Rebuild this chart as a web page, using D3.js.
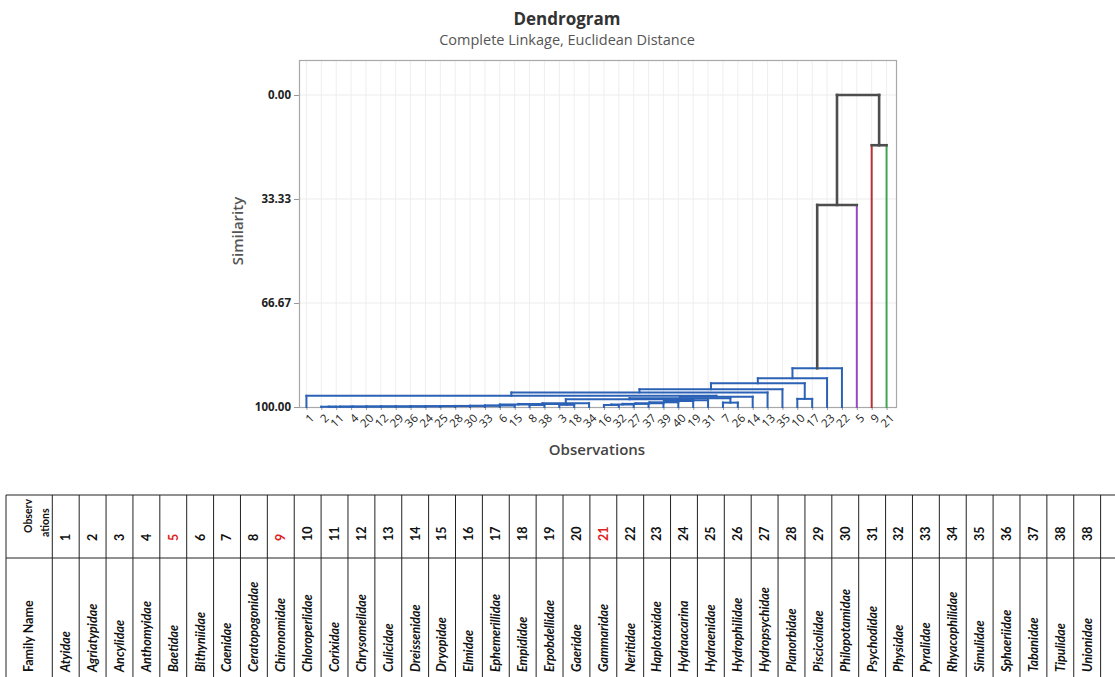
<!DOCTYPE html>
<html>
<head>
<meta charset="utf-8">
<script src="https://cdn.jsdelivr.net/npm/d3@7"></script>
<style>
  html, body { margin: 0; padding: 0; background: #ffffff; }
  svg { display: block; }
</style>
</head>
<body>
<svg id="chart" width="1115" height="677"></svg>
<script>
// Leaf order along the x axis (observation numbers)
const leafOrder = [1, 2, 11, 4, 20, 12, 29, 36, 24, 25, 28, 30, 33, 6, 15, 8, 38, 3, 18, 34,
                   16, 32, 27, 37, 39, 40, 19, 31, 7, 26, 14, 13, 35, 10, 17, 23, 22, 5, 9, 21];

// Amalgamation steps: [cluster joined, cluster joined, similarity level]
// The new cluster keeps the smaller of the two cluster numbers.
const merges = [
  [2, 11, 99.92], [2, 4, 99.90], [2, 20, 99.88], [2, 12, 99.86], [2, 29, 99.84],
  [2, 36, 99.82], [2, 24, 99.80], [2, 25, 99.77], [2, 28, 99.74], [2, 30, 99.70],
  [2, 33, 99.66], [2, 6, 99.60], [2, 15, 99.50], [8, 38, 99.35], [2, 8, 99.20],
  [3, 18, 99.30], [2, 3, 99.00], [2, 34, 98.80],
  [16, 32, 99.35], [16, 27, 99.20], [16, 37, 99.00], [16, 39, 98.80], [16, 40, 98.50],
  [16, 19, 98.10], [16, 31, 97.80], [2, 16, 97.55],
  [7, 26, 98.60], [2, 7, 97.20], [2, 14, 96.70], [1, 2, 96.40], [1, 13, 95.35],
  [1, 35, 94.30], [10, 17, 97.40], [1, 10, 92.40], [1, 23, 90.80], [1, 22, 87.60],
  [1, 5, 35.25], [9, 21, 16.10], [1, 9, 0.00]
];

// Final partition: singleton clusters with their own colours; all others share the first colour
const singletonClusters = [5, 9, 21];
const clusterColors = ["#2b62b6", "#9a47c4", "#b53234", "#3ea653"];
const joinColor = "#4d4d4d";

// Similarity axis ticks
const yTicks = [0, 33.33, 66.67, 100];
const yTickLabels = ["0.00", "33.33", "66.67", "100.00"];

// Key table: observation numbers and family names
const tableNumbers = ["1","2","3","4","5","6","7","8","9","10","11","12","13","14","15","16","17","18","19","20",
                      "21","22","23","24","25","26","27","28","29","30","31","32","33","34","35","36","37","38","38"];
const familyNames = ["Atyidae","Agriatypidae","Ancylidae","Anthomyidae","Baetidae","Bithyniidae","Caenidae",
  "Ceratopogonidae","Chironomidae","Chloroperlidae","Corixidae","Chrysomelidae","Culicidae","Dreissenidae",
  "Dryopidae","Elmidae","Ephemerillidae","Empididae","Erpobdellidae","Gaeridae","Gammaridae","Neritidae",
  "Haplotaxidae","Hydraacarina","Hydraenidae","Hydrophilidae","Hydropsychidae","Planorbidae","Piscicolidae",
  "Philopotamidae","Psychodidae","Physidae","Pyralidae","Rhyacophilidae","Simulidae","Sphaeriidae",
  "Tabanidae","Tipulidae","Unionidae"];
const highlightedNumbers = ["5", "9", "21"];

const svg = d3.select("#chart");
const sans = "'Open Sans', 'Noto Sans', sans-serif";
const tableFont = "Lato, 'Open Sans', sans-serif";

// ---------- Dendrogram ----------
const frame = { left: 299, right: 896, top: 60, bottom: 407 };
const x = d3.scalePoint().domain(leafOrder).range([299, 894]).padding(0.5);
const y = d3.scaleLinear().domain([0, 100]).range([95, 407]);

const grid = svg.append("g");
grid.selectAll("line.v").data(leafOrder).join("line")
  .attr("x1", d => x(d)).attr("x2", d => x(d))
  .attr("y1", frame.top).attr("y2", frame.bottom)
  .attr("stroke", "#eeeeee").attr("stroke-width", 1);
grid.selectAll("line.h").data(yTicks.filter(t => t < 100)).join("line")
  .attr("x1", frame.left).attr("x2", frame.right)
  .attr("y1", d => y(d)).attr("y2", d => y(d))
  .attr("stroke", "#ececec").attr("stroke-width", 1);

svg.append("rect")
  .attr("x", frame.left + 0.5).attr("y", frame.top + 0.5)
  .attr("width", frame.right - frame.left).attr("height", frame.bottom - frame.top)
  .attr("fill", "none").attr("stroke", "#a8a8a8").attr("stroke-width", 1.2);

// Axes
const yAxis = svg.append("g")
  .attr("transform", `translate(${frame.left},0)`)
  .call(d3.axisLeft(y).tickValues(yTicks).tickFormat((d, i) => yTickLabels[i]).tickSize(5).tickPadding(3));
yAxis.select(".domain").remove();
yAxis.selectAll("line").attr("stroke", "#999");
yAxis.selectAll("text").attr("font-family", sans).attr("font-size", 11.5)
  .attr("font-weight", 700).attr("fill", "#222");

const xAxis = svg.append("g")
  .attr("transform", `translate(0,${frame.bottom})`)
  .call(d3.axisBottom(x).tickSize(3).tickPadding(0));
xAxis.select(".domain").remove();
xAxis.selectAll("line").attr("stroke", "#999");
xAxis.selectAll("text")
  .attr("font-family", sans).attr("font-size", 11.5).attr("fill", "#222")
  .attr("text-anchor", "end")
  .attr("transform", "translate(5,9) rotate(-45)")
  .attr("x", 0).attr("y", 0).attr("dy", "0.35em");

// Build cluster geometry from the amalgamation steps
const leafCluster = id => {
  const k = singletonClusters.indexOf(id);
  return k < 0 ? 0 : k + 1;
};
const nodes = new Map();
leafOrder.forEach(id => nodes.set(id, { x: x(id), sim: 100, leaf: true, members: [id] }));

const segments = [];
merges.forEach(([a, b, s]) => {
  const A = nodes.get(a), B = nodes.get(b);
  const members = A.members.concat(B.members);
  const groups = new Set(members.map(leafCluster));
  const linkColor = groups.size === 1 ? clusterColors[[...groups][0]] : joinColor;
  const width = groups.size === 1 ? 2 : 2.6;
  [A, B].forEach(ch => {
    const c = ch.leaf ? clusterColors[leafCluster(ch.members[0])] : linkColor;
    segments.push({ x1: ch.x, x2: ch.x, y1: y(ch.sim), y2: y(s), color: c, w: ch.leaf ? 2 : width });
  });
  segments.push({ x1: A.x, x2: B.x, y1: y(s), y2: y(s), color: linkColor, w: width });
  nodes.set(Math.min(a, b), { x: (A.x + B.x) / 2, sim: s, leaf: false, members });
});

svg.append("g").selectAll("line").data(segments).join("line")
  .attr("x1", d => d.x1).attr("x2", d => d.x2)
  .attr("y1", d => d.y1).attr("y2", d => d.y2)
  .attr("stroke", d => d.color).attr("stroke-width", d => d.w)
  .attr("stroke-linecap", "square");

// Titles
svg.append("text").attr("x", 567).attr("y", 25).attr("text-anchor", "middle")
  .attr("font-family", sans).attr("font-size", 17).attr("font-weight", 700).attr("fill", "#333")
  .text("Dendrogram");
svg.append("text").attr("x", 567).attr("y", 45).attr("text-anchor", "middle")
  .attr("font-family", sans).attr("font-size", 14.5).attr("fill", "#555")
  .text("Complete Linkage, Euclidean Distance");
svg.append("text").attr("transform", "translate(243,231) rotate(-90)").attr("text-anchor", "middle")
  .attr("font-family", sans).attr("font-size", 15).attr("font-weight", 600).attr("fill", "#555")
  .text("Similarity");
svg.append("text").attr("x", 597).attr("y", 455).attr("text-anchor", "middle")
  .attr("font-family", sans).attr("font-size", 15).attr("font-weight", 600).attr("fill", "#444")
  .text("Observations");

// ---------- Key table ----------
const tbl = { left: 6, top: 495, mid: 558, bottom: 700, first: 52.3, colW: 26.88 };
const colX = i => tbl.first + i * tbl.colW;
const table = svg.append("g");
const nCols = tableNumbers.length;
d3.range(nCols + 1).forEach(i => {
  table.append("line").attr("x1", colX(i)).attr("x2", colX(i))
    .attr("y1", tbl.top).attr("y2", tbl.bottom).attr("stroke", "#222").attr("stroke-width", 1);
});
table.append("line").attr("x1", tbl.left).attr("x2", tbl.left)
  .attr("y1", tbl.top).attr("y2", tbl.bottom).attr("stroke", "#222").attr("stroke-width", 1);
[tbl.top, tbl.mid].forEach(v => {
  table.append("line").attr("x1", tbl.left).attr("x2", 1115)
    .attr("y1", v).attr("y2", v).attr("stroke", "#222").attr("stroke-width", 1);
});

const vText = (g, cx, cy, txt) => g.append("text")
  .attr("transform", `translate(${cx},${cy}) rotate(-90)`)
  .attr("dy", "0.35em").attr("font-family", tableFont).text(txt);

vText(table, 28, 533, "Observ").attr("font-size", 10.5).attr("font-weight", 700).attr("fill", "#111");
vText(table, 45, 537, "ations").attr("font-size", 10.5).attr("font-weight", 700).attr("fill", "#111");
vText(table, 29, 672, "Family Name").attr("font-size", 12.5).attr("font-weight", 700).attr("fill", "#111");

tableNumbers.forEach((n, i) => {
  vText(table, colX(i) + tbl.colW / 2, 541, n)
    .attr("font-size", 12.5).attr("font-weight", 700)
    .attr("fill", highlightedNumbers.includes(n) && i === +n - 1 ? "#e0201c" : "#111");
});
familyNames.forEach((name, i) => {
  vText(table, colX(i) + tbl.colW / 2, 672, name)
    .attr("font-size", 12.5).attr("font-weight", 700).attr("font-style", "italic").attr("fill", "#111");
});
</script>
</body>
</html>
